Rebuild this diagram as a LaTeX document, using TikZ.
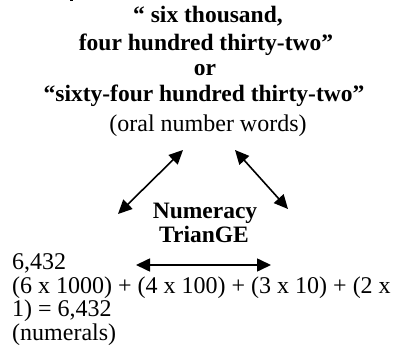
\documentclass[tikz,border=0pt]{standalone}
\usepackage{fontspec}
\setmainfont{Liberation Serif}
\usetikzlibrary{arrows.meta}
\begin{document}
\begin{tikzpicture}[x=1pt,y=-1pt,
  txt/.style={inner sep=0pt,anchor=base,font=\fontsize{24}{28}\selectfont},
  btxt/.style={txt,font=\fontsize{23.5}{28}\selectfont\bfseries},
  ltxt/.style={txt,anchor=base west},
  dbl/.style={line width=1.6pt,{Triangle[length=14pt,width=13pt]}-{Triangle[length=14pt,width=13pt]}}]
\useasboundingbox (0,0) rectangle (397,358);
\fill (70,0) rectangle (73,1.5);
\node[btxt] (l1) at (208,23) {“ six thousand,};
\node[btxt] (l2) at (206,51) {four hundred thirty-two”};
\node[btxt] (l3) at (205,76) {or};
\node[btxt] (l4) at (204,102) {“sixty-four hundred thirty-two”};
\node[txt] (l5) at (208,132) {(oral number words)};
\node[btxt] (n1) at (205,219) {Numeracy};
\node[btxt] (n2) at (204,243) {TrianGE};
\node[ltxt] (m1) at (12,270) {6,432};
\node[ltxt] (m2) at (12,293.5) {(6 x 1000) + (4 x 100) + (3 x 10) + (2 x};
\node[ltxt] (m3) at (12,317) {1) = 6,432};
\node[ltxt] (m4) at (12,341) {(numerals)};
\coordinate (a1) at (118,214);
\coordinate (a2) at (183,150);
\coordinate (b1) at (235,150);
\coordinate (b2) at (288,209);
\coordinate (c1) at (136,265);
\coordinate (c2) at (271,265);
\draw[dbl] (a1) -- (a2);
\draw[dbl] (b1) -- (b2);
\draw[dbl] (c1) -- (c2);
\end{tikzpicture}
\end{document}
